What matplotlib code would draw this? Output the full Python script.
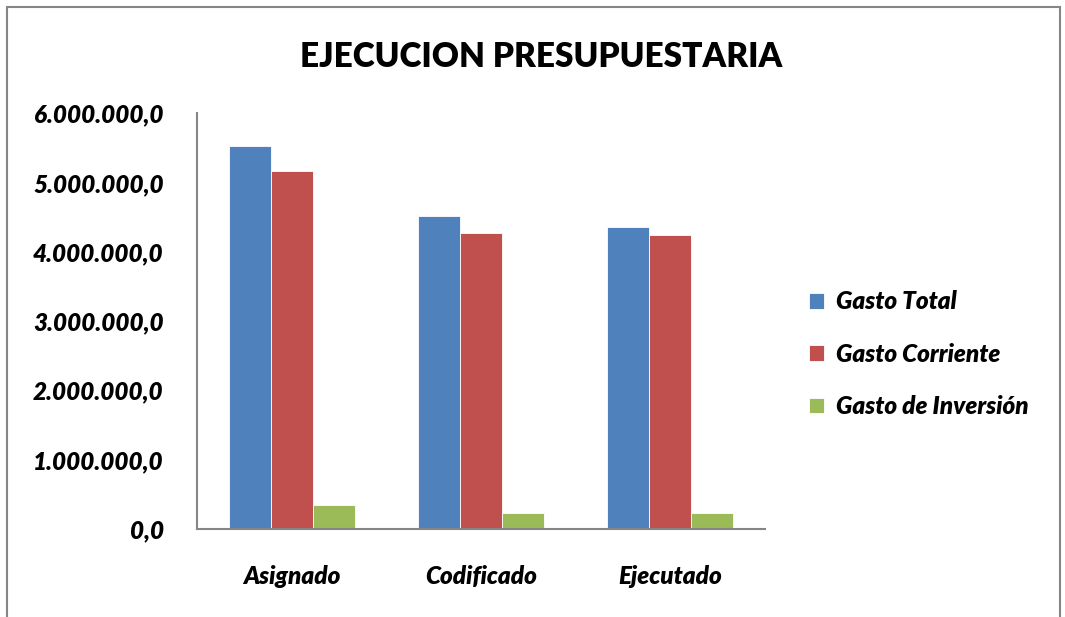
import matplotlib.pyplot as plt
import numpy as np
from matplotlib.patches import Rectangle

categorias = ['Asignado', 'Codificado', 'Ejecutado']
gasto_total = [5530000, 4510000, 4360000]
gasto_corriente = [5160000, 4270000, 4240000]
gasto_inversion = [340000, 220000, 220000]
series = ['Gasto Total', 'Gasto Corriente', 'Gasto de Inversión']
colores = ['#4F81BD', '#C0504D', '#9BBB59']
yticks = [0, 1000000, 2000000, 3000000, 4000000, 5000000, 6000000]
ytick_labels = ['0,0', '1.000.000,0', '2.000.000,0', '3.000.000,0',
                '4.000.000,0', '5.000.000,0', '6.000.000,0']

plt.rcParams['font.family'] = ['Lato', 'DejaVu Sans']

fig = plt.figure(figsize=(10.65, 6.17), dpi=100)
ax = fig.add_axes([0.185, 0.1434, 0.533, 0.6730])

x = np.arange(len(categorias))
w = 0.222
for i, (vals, nombre) in enumerate(zip([gasto_total, gasto_corriente, gasto_inversion], series)):
    ax.bar(x + (i - 1) * w, vals, w, color=colores[i], label=nombre,
           edgecolor='white', linewidth=0.6)

ax.set_xlim(-0.5, 2.5)
ax.set_ylim(0, 6000000)
ax.set_yticks(yticks)
ax.set_yticklabels(ytick_labels, fontsize=17.5, fontweight='heavy', fontstyle='italic')
ax.set_xticks(x)
ax.set_xticklabels(categorias, fontsize=17.5, fontweight='heavy', fontstyle='italic')
ax.tick_params(axis='both', length=0)
ax.tick_params(axis='y', pad=24)
ax.tick_params(axis='x', pad=26)
for s in ['top', 'right']:
    ax.spines[s].set_visible(False)
for s in ['left', 'bottom']:
    ax.spines[s].set_color('#868686')
    ax.spines[s].set_linewidth(1.5)

fig.text(0.508, 0.908, 'EJECUCION PRESUPUESTARIA', ha='center', va='center',
         fontsize=24, fontweight='heavy')

ax.legend(loc='center left', bbox_to_anchor=(1.04, 0.42), frameon=False,
          prop={'size': 17.5, 'weight': 'heavy', 'style': 'italic'},
          handlelength=0.6, handleheight=0.6, labelspacing=1.2, handletextpad=0.5)

fig.patches.append(Rectangle((0.007, -0.05), 0.988, 1.039, transform=fig.transFigure,
                             fill=False, edgecolor='#868686', linewidth=1.5))

fig.savefig('out.png', dpi=100)
